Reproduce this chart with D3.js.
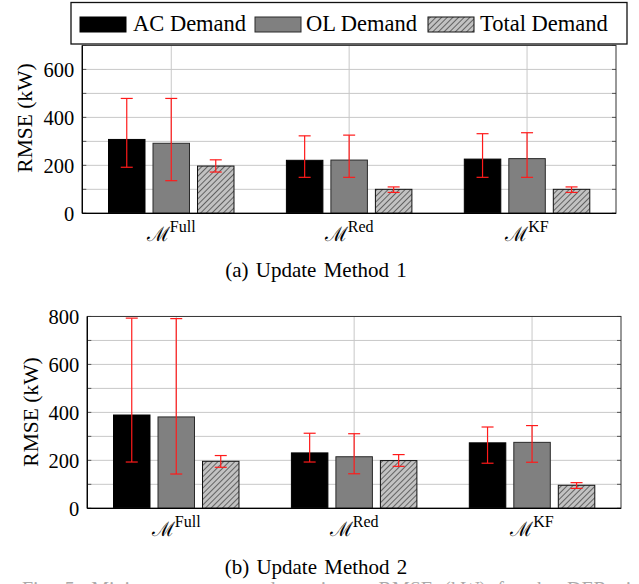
<!DOCTYPE html>
<html>
<head>
<meta charset="utf-8">
<script src="https://cdn.jsdelivr.net/npm/d3@7"></script>
<style>
  html, body { margin: 0; padding: 0; background: #fff; }
  svg { display: block; }
</style>
</head>
<body>
<svg id="chart" width="639" height="584" font-family="'Liberation Serif', 'DejaVu Serif', serif"></svg>
<script>
// ---------------- data ----------------
const categories = ["Full", "Red", "KF"];
const series = ["AC Demand", "OL Demand", "Total Demand"];

// Update Method 1 : [AC, OL, Total] per category
const m1Mean = [[308, 292, 197], [221, 222, 100], [226, 228, 100]];
const m1Low  = [[192, 136, 172], [150, 150, 87],  [150, 150, 87]];
const m1High = [[479, 479, 223], [323, 326, 110], [332, 336, 110]];

// Update Method 2
const m2Mean = [[389, 381, 196], [231, 215, 199], [273, 275, 96]];
const m2Low  = [[193, 143, 171], [193, 144, 175], [188, 192, 83]];
const m2High = [[793, 791, 220], [313, 311, 224], [339, 345, 107]];

const m1Ticks = [0, 200, 400, 600];
const m2Ticks = [0, 200, 400, 600, 800];
const captions = ["(a) Update Method 1", "(b) Update Method 2"];

// ---------------- drawing ----------------
const SERIF = "'Liberation Serif', 'DejaVu Serif', serif";
const svg = d3.select("#chart");
const defs = svg.append("defs");
const pat = defs.append("pattern")
  .attr("id", "hatch").attr("patternUnits", "userSpaceOnUse")
  .attr("width", 4).attr("height", 4)
  .attr("patternTransform", "rotate(45)");
pat.append("rect").attr("width", 4).attr("height", 4).attr("fill", "#c2c2c2");
pat.append("line").attr("x1", 0).attr("y1", 0).attr("x2", 0).attr("y2", 4)
  .attr("stroke", "#111").attr("stroke-width", 1.1);

const fills = { "AC Demand": "#000", "OL Demand": "#808080", "Total Demand": "url(#hatch)" };
const strokes = { "AC Demand": "#000", "OL Demand": "#2a2a2a", "Total Demand": "#111" };

function panel(cfg) {
  const g = svg.append("g").attr("font-family", SERIF);
  const x = d3.scaleBand().domain(categories).range([cfg.left, cfg.right]).padding(0);
  const y = d3.scaleLinear().domain([0, cfg.ymax]).range([cfg.y0, cfg.y0 - cfg.ymax * 0.2398]);
  const x1 = d3.scaleBand().domain(series).range([-66.75, 66.75]).paddingInner(0.18).paddingOuter(0.09);

  const grid = d3.range(100, cfg.ymax, 100);
  g.selectAll(".hg").data(grid).join("line")
    .attr("x1", cfg.left).attr("x2", cfg.right)
    .attr("y1", d => y(d)).attr("y2", d => y(d))
    .attr("stroke", "#c8c8c8").attr("stroke-width", 1);
  g.selectAll(".vg").data(categories).join("line")
    .attr("x1", d => x(d) + x.bandwidth() / 2).attr("x2", d => x(d) + x.bandwidth() / 2)
    .attr("y1", y(cfg.ymax)).attr("y2", y(0))
    .attr("stroke", "#c8c8c8").attr("stroke-width", 1);
  const tk = d3.range(0, cfg.ymax + 1, 100);
  g.selectAll(".tl").data(tk).join("line")
    .attr("x1", cfg.left).attr("x2", cfg.left + 4)
    .attr("y1", d => y(d)).attr("y2", d => y(d)).attr("stroke", "#555");
  g.selectAll(".tr").data(tk).join("line")
    .attr("x1", cfg.right - 4).attr("x2", cfg.right)
    .attr("y1", d => y(d)).attr("y2", d => y(d)).attr("stroke", "#555");

  const rows = [];
  categories.forEach((c, i) => series.forEach((s, j) => rows.push({
    c, s, v: cfg.mean[i][j], lo: cfg.low[i][j], hi: cfg.high[i][j]
  })));
  const cx = d => x(d.c) + x.bandwidth() / 2 + x1(d.s);
  g.selectAll(".bar").data(rows).join("rect")
    .attr("x", d => cx(d)).attr("width", x1.bandwidth())
    .attr("y", d => y(d.v)).attr("height", d => y(0) - y(d.v))
    .attr("fill", d => fills[d.s]).attr("stroke", d => strokes[d.s]).attr("stroke-width", 1);

  const eb = g.selectAll(".eb").data(rows).join("g")
    .attr("stroke", "#ff1a1a").attr("stroke-width", 1.2);
  const mid = d => cx(d) + x1.bandwidth() / 2;
  eb.append("line").attr("x1", mid).attr("x2", mid)
    .attr("y1", d => y(d.lo)).attr("y2", d => y(d.hi));
  eb.append("line").attr("x1", d => mid(d) - 6).attr("x2", d => mid(d) + 6)
    .attr("y1", d => y(d.lo)).attr("y2", d => y(d.lo));
  eb.append("line").attr("x1", d => mid(d) - 6).attr("x2", d => mid(d) + 6)
    .attr("y1", d => y(d.hi)).attr("y2", d => y(d.hi));

  g.append("rect").attr("x", cfg.left).attr("y", y(cfg.ymax))
    .attr("width", cfg.right - cfg.left).attr("height", y(0) - y(cfg.ymax))
    .attr("fill", "none").attr("stroke", "#333").attr("stroke-width", 1);
  g.append("line").attr("x1", cfg.left).attr("x2", cfg.left).attr("y1", y(cfg.ymax)).attr("y2", y(0))
    .attr("stroke", "#000").attr("stroke-width", 1.3);
  g.append("line").attr("x1", cfg.left).attr("x2", cfg.right).attr("y1", y(0)).attr("y2", y(0))
    .attr("stroke", "#000").attr("stroke-width", 1.3);

  g.selectAll(".yl").data(cfg.ticks).join("text")
    .attr("x", cfg.left - 8).attr("y", d => y(d) + 7.5)
    .attr("text-anchor", "end").attr("font-size", 20.5).text(d => d);

  g.append("text")
    .attr("transform", `translate(${cfg.labX},${cfg.labY}) rotate(-90)`)
    .attr("text-anchor", "middle").attr("font-size", 21.5).text("RMSE (kW)");

  const xl = g.selectAll(".xl").data(categories).join("text")
    .attr("x", d => x(d) + x.bandwidth() / 2).attr("y", y(0) + 28)
    .attr("text-anchor", "middle");
  xl.append("tspan").attr("font-family", "'DejaVu Serif', serif").attr("font-size", 20).text("ℳ");
  xl.append("tspan").attr("font-size", 16).attr("dy", -9).text(d => d);

  g.append("text").attr("x", 316).attr("y", cfg.capY).attr("text-anchor", "middle")
    .attr("font-size", 21).attr("word-spacing", 2).text(cfg.caption);
}

panel({ left: 82.3, right: 616, y0: 213.3, ymax: 700, mean: m1Mean, low: m1Low, high: m1High,
  ticks: m1Ticks, labX: 32, labY: 118, capY: 277, caption: captions[0] });
panel({ left: 87.3, right: 621, y0: 508.3, ymax: 800, mean: m2Mean, low: m2Low, high: m2High,
  ticks: m2Ticks, labX: 38, labY: 412, capY: 574, caption: captions[1] });

const lg = svg.append("g").attr("font-family", SERIF);
lg.append("rect").attr("x", 71).attr("y", 2.5).attr("width", 556).attr("height", 41.5)
  .attr("fill", "#fff").attr("stroke", "#111").attr("stroke-width", 1.3);
const legX = [80, 255, 428];
const legTX = [133, 306, 480];
series.forEach((s, i) => {
  lg.append("rect").attr("x", legX[i]).attr("y", 17).attr("width", 46).attr("height", 15)
    .attr("fill", fills[s]).attr("stroke", strokes[s]).attr("stroke-width", 1);
  lg.append("text").attr("x", legTX[i]).attr("y", 31).attr("font-size", 22.5).text(s);
});

svg.append("text").attr("x", 22).attr("y", 596).attr("font-size", 20).attr("fill", "#aaa")
  .attr("font-family", SERIF).attr("word-spacing", 6)
  .text("Fig. 5: Minimum, mean, and maximum RMSE (kW) for the DERs in the");
</script>
</body>
</html>
